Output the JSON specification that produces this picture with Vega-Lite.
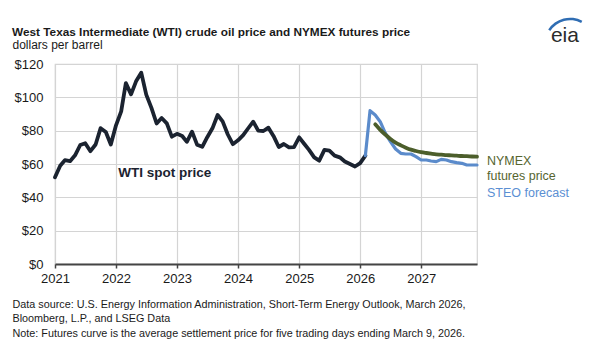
{
  "$schema": "https://vega.github.io/schema/vega-lite/v6.json",
  "width": 422,
  "height": 200,
  "autosize": {"type": "none"},
  "padding": {"left": 55, "top": 64, "right": 123, "bottom": 85},
  "background": "white",
  "config": {
    "font": "Liberation Sans",
    "view": {"stroke": "#d4d4d4", "strokeWidth": 1.2}
  },
  "title": {
    "text": "West Texas Intermediate (WTI) crude oil price and NYMEX futures price",
    "anchor": "start",
    "frame": "group",
    "dx": -43,
    "offset": -21,
    "fontSize": 11.8,
    "fontWeight": "bold",
    "color": "#1a1a1a"
  },
  "datasets": {
    "prices": [
      {"date": "2021-01-01", "series": "WTI", "value": 52.0},
      {"date": "2021-02-01", "series": "WTI", "value": 59.0},
      {"date": "2021-03-01", "series": "WTI", "value": 62.3},
      {"date": "2021-04-01", "series": "WTI", "value": 61.7},
      {"date": "2021-05-01", "series": "WTI", "value": 65.2},
      {"date": "2021-06-01", "series": "WTI", "value": 71.4},
      {"date": "2021-07-01", "series": "WTI", "value": 72.5},
      {"date": "2021-08-01", "series": "WTI", "value": 67.7},
      {"date": "2021-09-01", "series": "WTI", "value": 71.7},
      {"date": "2021-10-01", "series": "WTI", "value": 81.5},
      {"date": "2021-11-01", "series": "WTI", "value": 79.2},
      {"date": "2021-12-01", "series": "WTI", "value": 71.7},
      {"date": "2022-01-01", "series": "WTI", "value": 83.2},
      {"date": "2022-02-01", "series": "WTI", "value": 91.6},
      {"date": "2022-03-01", "series": "WTI", "value": 108.5},
      {"date": "2022-04-01", "series": "WTI", "value": 101.8},
      {"date": "2022-05-01", "series": "WTI", "value": 109.6},
      {"date": "2022-06-01", "series": "WTI", "value": 114.8},
      {"date": "2022-07-01", "series": "WTI", "value": 101.6},
      {"date": "2022-08-01", "series": "WTI", "value": 93.7},
      {"date": "2022-09-01", "series": "WTI", "value": 84.3},
      {"date": "2022-10-01", "series": "WTI", "value": 87.6},
      {"date": "2022-11-01", "series": "WTI", "value": 84.4},
      {"date": "2022-12-01", "series": "WTI", "value": 76.4},
      {"date": "2023-01-01", "series": "WTI", "value": 78.1},
      {"date": "2023-02-01", "series": "WTI", "value": 76.8},
      {"date": "2023-03-01", "series": "WTI", "value": 73.3},
      {"date": "2023-04-01", "series": "WTI", "value": 79.4},
      {"date": "2023-05-01", "series": "WTI", "value": 71.6},
      {"date": "2023-06-01", "series": "WTI", "value": 70.3},
      {"date": "2023-07-01", "series": "WTI", "value": 76.1},
      {"date": "2023-08-01", "series": "WTI", "value": 81.4},
      {"date": "2023-09-01", "series": "WTI", "value": 89.4},
      {"date": "2023-10-01", "series": "WTI", "value": 85.6},
      {"date": "2023-11-01", "series": "WTI", "value": 77.7},
      {"date": "2023-12-01", "series": "WTI", "value": 71.9},
      {"date": "2024-01-01", "series": "WTI", "value": 74.2},
      {"date": "2024-02-01", "series": "WTI", "value": 77.3},
      {"date": "2024-03-01", "series": "WTI", "value": 81.3},
      {"date": "2024-04-01", "series": "WTI", "value": 85.4},
      {"date": "2024-05-01", "series": "WTI", "value": 80.0},
      {"date": "2024-06-01", "series": "WTI", "value": 79.8},
      {"date": "2024-07-01", "series": "WTI", "value": 81.8},
      {"date": "2024-08-01", "series": "WTI", "value": 76.7},
      {"date": "2024-09-01", "series": "WTI", "value": 70.2},
      {"date": "2024-10-01", "series": "WTI", "value": 72.0},
      {"date": "2024-11-01", "series": "WTI", "value": 70.0},
      {"date": "2024-12-01", "series": "WTI", "value": 70.1},
      {"date": "2025-01-01", "series": "WTI", "value": 76.0},
      {"date": "2025-02-01", "series": "WTI", "value": 72.0},
      {"date": "2025-03-01", "series": "WTI", "value": 68.5},
      {"date": "2025-04-01", "series": "WTI", "value": 64.0},
      {"date": "2025-05-01", "series": "WTI", "value": 62.0},
      {"date": "2025-06-01", "series": "WTI", "value": 68.5},
      {"date": "2025-07-01", "series": "WTI", "value": 68.0},
      {"date": "2025-08-01", "series": "WTI", "value": 65.0},
      {"date": "2025-09-01", "series": "WTI", "value": 64.0},
      {"date": "2025-10-01", "series": "WTI", "value": 61.5},
      {"date": "2025-11-01", "series": "WTI", "value": 60.0},
      {"date": "2025-12-01", "series": "WTI", "value": 58.5},
      {"date": "2026-01-01", "series": "WTI", "value": 60.5},
      {"date": "2026-02-01", "series": "WTI", "value": 65.0},
      {"date": "2026-02-01", "series": "STEO", "value": 65.0},
      {"date": "2026-03-01", "series": "STEO", "value": 92.0},
      {"date": "2026-04-01", "series": "STEO", "value": 89.4},
      {"date": "2026-05-01", "series": "STEO", "value": 85.4},
      {"date": "2026-06-01", "series": "STEO", "value": 78.4},
      {"date": "2026-07-01", "series": "STEO", "value": 73.4},
      {"date": "2026-08-01", "series": "STEO", "value": 69.0},
      {"date": "2026-09-01", "series": "STEO", "value": 66.4},
      {"date": "2026-10-01", "series": "STEO", "value": 66.0},
      {"date": "2026-11-01", "series": "STEO", "value": 66.0},
      {"date": "2026-12-01", "series": "STEO", "value": 64.4},
      {"date": "2027-01-01", "series": "STEO", "value": 62.4},
      {"date": "2027-02-01", "series": "STEO", "value": 62.4},
      {"date": "2027-03-01", "series": "STEO", "value": 61.8},
      {"date": "2027-04-01", "series": "STEO", "value": 61.4},
      {"date": "2027-05-01", "series": "STEO", "value": 62.8},
      {"date": "2027-06-01", "series": "STEO", "value": 62.4},
      {"date": "2027-07-01", "series": "STEO", "value": 61.4},
      {"date": "2027-08-01", "series": "STEO", "value": 60.8},
      {"date": "2027-09-01", "series": "STEO", "value": 60.4},
      {"date": "2027-10-01", "series": "STEO", "value": 59.4},
      {"date": "2027-11-01", "series": "STEO", "value": 59.4},
      {"date": "2027-12-01", "series": "STEO", "value": 59.4},
      {"date": "2026-04-01", "series": "NYMEX", "value": 83.8},
      {"date": "2026-05-01", "series": "NYMEX", "value": 80.5},
      {"date": "2026-06-01", "series": "NYMEX", "value": 77.6},
      {"date": "2026-07-01", "series": "NYMEX", "value": 75.0},
      {"date": "2026-08-01", "series": "NYMEX", "value": 72.8},
      {"date": "2026-09-01", "series": "NYMEX", "value": 71.2},
      {"date": "2026-10-01", "series": "NYMEX", "value": 69.8},
      {"date": "2026-11-01", "series": "NYMEX", "value": 68.6},
      {"date": "2026-12-01", "series": "NYMEX", "value": 67.8},
      {"date": "2027-01-01", "series": "NYMEX", "value": 67.1},
      {"date": "2027-02-01", "series": "NYMEX", "value": 66.6},
      {"date": "2027-03-01", "series": "NYMEX", "value": 66.2},
      {"date": "2027-04-01", "series": "NYMEX", "value": 65.8},
      {"date": "2027-05-01", "series": "NYMEX", "value": 65.6},
      {"date": "2027-06-01", "series": "NYMEX", "value": 65.3},
      {"date": "2027-07-01", "series": "NYMEX", "value": 65.2},
      {"date": "2027-08-01", "series": "NYMEX", "value": 65.0},
      {"date": "2027-09-01", "series": "NYMEX", "value": 64.8},
      {"date": "2027-10-01", "series": "NYMEX", "value": 64.7},
      {"date": "2027-11-01", "series": "NYMEX", "value": 64.5},
      {"date": "2027-12-01", "series": "NYMEX", "value": 64.4}
    ]
  },
  "layer": [
    {
      "data": {"name": "prices"},
      "transform": [{"filter": "datum.series === 'WTI'"}],
      "mark": {"type": "line", "color": "#1b2330", "strokeWidth": 3.8, "strokeJoin": "round", "strokeCap": "round"},
      "encoding": {
        "x": {
          "field": "date",
          "type": "temporal",
          "scale": {
            "type": "utc",
            "domain": [
              {"year": 2021, "month": 1, "date": 1, "utc": true},
              {"year": 2027, "month": 12, "date": 1, "utc": true}
            ]
          },
          "axis": {
            "values": [
              {"year": 2021, "month": 1, "date": 1, "utc": true},
              {"year": 2022, "month": 1, "date": 1, "utc": true},
              {"year": 2023, "month": 1, "date": 1, "utc": true},
              {"year": 2024, "month": 1, "date": 1, "utc": true},
              {"year": 2025, "month": 1, "date": 1, "utc": true},
              {"year": 2026, "month": 1, "date": 1, "utc": true},
              {"year": 2027, "month": 1, "date": 1, "utc": true}
            ],
            "tickCount": 12,
            "format": "%Y",
            "labelFontSize": 13,
            "labelColor": "#1a1a1a",
            "labelPadding": 4,
            "labelFlush": false,
            "labelOverlap": false,
            "tickSize": 4,
            "tickColor": "#444444",
            "tickWidth": 1.5,
            "domainColor": "#444444",
            "domainWidth": 2,
            "grid": true,
            "gridColor": "#d4d4d4",
            "gridWidth": 1.2,
            "title": [
              "Data source: U.S. Energy Information Administration, Short-Term Energy Outlook, March 2026,",
              "Bloomberg, L.P., and LSEG Data",
              "Note: Futures curve is the average settlement price for five trading days ending March 9, 2026."
            ],
            "titleFontSize": 10.8,
            "titleFontWeight": "normal",
            "titleColor": "#1a1a1a",
            "titleAlign": "left",
            "titleAnchor": "start",
            "titleBaseline": "alphabetic",
            "titleLineHeight": 14.5,
            "titleX": -43,
            "titleY": 43
          }
        },
        "y": {
          "field": "value",
          "type": "quantitative",
          "scale": {"domain": [0, 120]},
          "axis": {
            "values": [0, 20, 40, 60, 80, 100, 120],
            "tickCount": 10,
            "format": "$.0f",
            "labelFontSize": 13,
            "labelColor": "#1a1a1a",
            "labelPadding": 12,
            "labelOverlap": false,
            "ticks": false,
            "tickSize": 0,
            "domain": false,
            "grid": true,
            "gridColor": "#d4d4d4",
            "gridWidth": 1.2,
            "title": "dollars per barrel",
            "titleAngle": 0,
            "titleAlign": "left",
            "titleAnchor": "start",
            "titleBaseline": "alphabetic",
            "titleFontSize": 12,
            "titleFontWeight": "normal",
            "titleColor": "#1a1a1a",
            "titleX": -43,
            "titleY": -15.3
          }
        }
      }
    },
    {
      "data": {"name": "prices"},
      "transform": [{"filter": "datum.series === 'STEO'"}],
      "mark": {"type": "line", "color": "#5b8bcb", "strokeWidth": 3.2, "strokeJoin": "round", "strokeCap": "round"},
      "encoding": {
        "x": {"field": "date", "type": "temporal"},
        "y": {"field": "value", "type": "quantitative"}
      }
    },
    {
      "data": {"name": "prices"},
      "transform": [{"filter": "datum.series === 'NYMEX'"}],
      "mark": {"type": "line", "color": "#4c5e2b", "strokeWidth": 3.8, "strokeJoin": "round", "strokeCap": "round", "interpolate": "monotone"},
      "encoding": {
        "x": {"field": "date", "type": "temporal"},
        "y": {"field": "value", "type": "quantitative"}
      }
    },
    {
      "data": {"values": [{"label": "WTI spot price"}]},
      "mark": {"type": "text", "align": "left", "baseline": "middle", "fontSize": 13.5, "fontWeight": "bold", "color": "#1b2330"},
      "encoding": {
        "x": {"datum": {"year": 2022, "month": 1, "date": 14, "utc": true}, "type": "temporal"},
        "y": {"datum": 54.4, "type": "quantitative"},
        "text": {"field": "label"}
      }
    },
    {
      "data": {"values": [{"label": ["NYMEX", "futures price"]}]},
      "mark": {"type": "text", "align": "left", "baseline": "middle", "fontSize": 12.5, "color": "#56652f", "dx": 10, "lineHeight": 15},
      "encoding": {
        "x": {"datum": {"year": 2027, "month": 12, "date": 1, "utc": true}, "type": "temporal"},
        "y": {"datum": 61.8, "type": "quantitative"},
        "text": {"field": "label"}
      }
    },
    {
      "data": {"values": [{"label": "STEO forecast"}]},
      "mark": {"type": "text", "align": "left", "baseline": "middle", "fontSize": 12.5, "color": "#5b8fd3", "dx": 10},
      "encoding": {
        "x": {"datum": {"year": 2027, "month": 12, "date": 1, "utc": true}, "type": "temporal"},
        "y": {"datum": 42.8, "type": "quantitative"},
        "text": {"field": "label"}
      }
    },
    {
      "data": {"values": [{"label": "eia"}]},
      "mark": {"type": "text", "align": "center", "baseline": "alphabetic", "fontSize": 21, "color": "#2b2b2b"},
      "encoding": {
        "x": {"datum": {"year": 2029, "month": 5, "date": 10, "utc": true}, "type": "temporal"},
        "y": {"datum": 133.4, "type": "quantitative"},
        "text": {"field": "label"}
      }
    },
    {
      "data": {"values": [{"label": "eia"}]},
      "mark": {"type": "arc", "radius": 26, "radius2": 23.5, "theta": -1.0, "theta2": 0.49, "color": "#2f6db3"},
      "encoding": {
        "x": {"datum": {"year": 2029, "month": 6, "date": 10, "utc": true}, "type": "temporal"},
        "y": {"datum": 132.2, "type": "quantitative"}
      }
    }
  ]
}
